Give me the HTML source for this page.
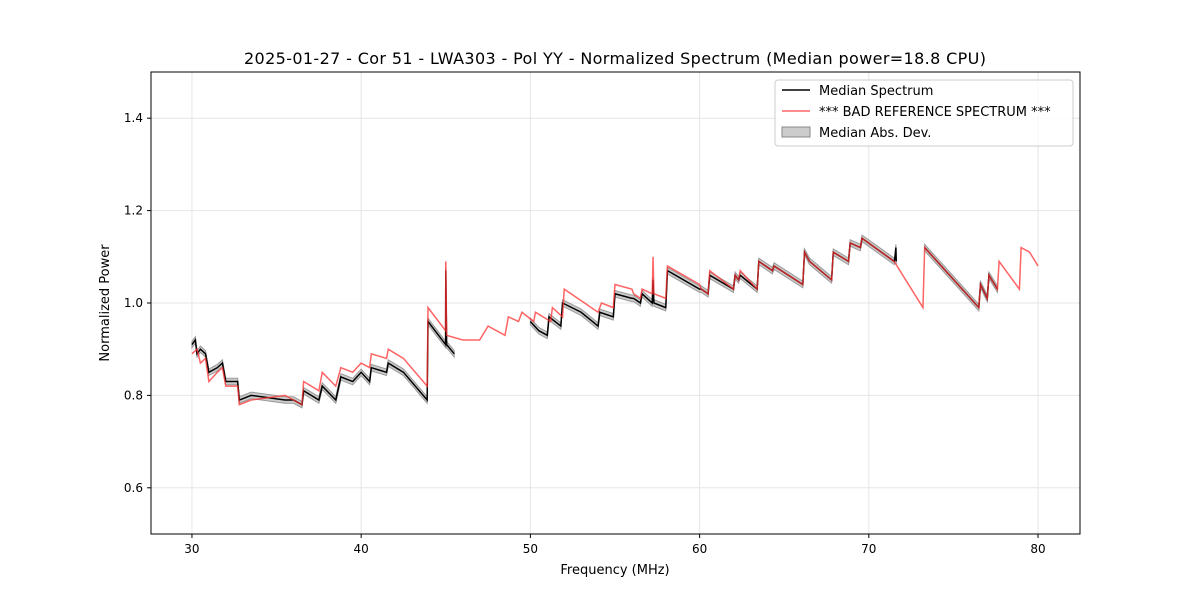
<!DOCTYPE html>
<html><head><meta charset="utf-8"><style>
body{margin:0;background:#fff;font-family:"Liberation Sans","DejaVu Sans",sans-serif}
svg text{font-family:"DejaVu Sans","Liberation Sans",sans-serif}
</style></head><body>
<svg id="c" width="1200" height="600" xmlns="http://www.w3.org/2000/svg">
<rect width="1200" height="600" fill="#fff"/>
<text x="615" y="64" text-anchor="middle" font-size="16" textLength="742">2025-01-27 - Cor 51 - LWA303 - Pol YY - Normalized Spectrum (Median power=18.8 CPU)</text>
<g id="grid"></g><g id="band"></g><g id="lines"></g><g id="axes"></g>
<text x="615" y="574" text-anchor="middle" font-size="13">Frequency (MHz)</text>
<text transform="translate(109,303) rotate(-90)" text-anchor="middle" font-size="13">Normalized Power</text>
<g>
<rect x="775" y="80" width="298" height="66" fill="#fff" fill-opacity="0.8" stroke="#ccc" rx="3"/>
<line x1="782" y1="90" x2="810" y2="90" stroke="#000" stroke-width="1.5"/>
<text x="819" y="95" font-size="13">Median Spectrum</text>
<line x1="782" y1="111" x2="810" y2="111" stroke="#ff4040" stroke-opacity="0.8" stroke-width="1.5"/>
<text x="819" y="116" font-size="13">*** BAD REFERENCE SPECTRUM ***</text>
<rect x="782" y="127" width="28" height="10" fill="#aaa" fill-opacity="0.6" stroke="#888"/>
<text x="819" y="137" font-size="13">Median Abs. Dev.</text>
</g>
</svg>
<script>
const xTicks=[30,40,50,60,70,80];
const yTicks=[0.6,0.8,1.0,1.2,1.4];
const refFreq=[30.0,30.3,30.5,30.8,31.0,31.5,31.8,32.0,32.7,32.8,33.5,35.5,36.0,36.5,36.6,37.5,37.7,38.5,38.8,39.5,40.0,40.5,40.6,41.5,41.6,42.5,43.9,43.95,44.99,45.0,45.05,46.0,47.0,47.5,48.5,48.7,49.3,49.5,50.2,50.3,51.2,51.3,51.9,52.0,54.0,54.2,54.9,55.0,56.0,56.1,56.5,56.6,57.2,57.25,57.3,58.0,58.1,60.0,60.1,60.5,60.6,62.0,62.1,62.3,62.4,63.4,63.5,64.3,64.4,66.1,66.2,66.5,67.8,67.9,68.8,68.9,69.5,69.6,71.5,73.2,73.3,76.5,76.6,77.0,77.1,77.6,77.7,78.9,79.0,79.5,80.0];
const refVal=[0.89,0.90,0.87,0.88,0.83,0.85,0.86,0.82,0.82,0.78,0.79,0.80,0.79,0.78,0.83,0.81,0.85,0.82,0.86,0.85,0.87,0.86,0.89,0.88,0.90,0.88,0.82,0.99,0.94,1.09,0.93,0.92,0.92,0.95,0.93,0.97,0.96,0.98,0.96,0.98,0.96,0.99,0.97,1.03,0.98,1.00,0.99,1.04,1.03,1.02,1.01,1.03,1.02,1.10,1.02,1.01,1.08,1.04,1.03,1.02,1.07,1.03,1.06,1.05,1.07,1.03,1.09,1.07,1.08,1.04,1.11,1.09,1.05,1.11,1.09,1.13,1.12,1.14,1.09,0.99,1.12,0.99,1.04,1.01,1.06,1.03,1.09,1.03,1.12,1.11,1.08];
const medFreq=[30.0,30.2,30.3,30.5,30.8,31.0,31.5,31.8,32.0,32.7,32.8,33.5,35.5,36.0,36.5,36.6,37.5,37.7,38.5,38.8,39.5,40.0,40.5,40.6,41.5,41.6,42.5,43.9,43.95,44.99,45.0,45.05,45.5,null,50.0,50.5,51.0,51.1,51.8,51.9,53.0,54.0,54.1,54.9,55.0,56.0,56.1,56.5,56.6,57.2,57.25,57.3,58.0,58.1,60.0,60.1,60.5,60.6,62.0,62.1,62.3,62.4,63.4,63.5,64.3,64.4,66.1,66.2,66.5,67.8,67.9,68.8,68.9,69.5,69.6,71.5,71.55,71.6,71.62,null,73.3,76.5,76.6,77.0,77.1,77.6];
const medVal=[0.91,0.92,0.89,0.90,0.89,0.85,0.86,0.87,0.83,0.83,0.79,0.80,0.79,0.79,0.78,0.81,0.79,0.82,0.79,0.84,0.83,0.85,0.83,0.86,0.85,0.87,0.85,0.79,0.96,0.91,1.07,0.91,0.89,null,0.96,0.94,0.93,0.97,0.95,1.00,0.98,0.95,0.98,0.97,1.02,1.01,1.01,1.00,1.02,1.00,1.05,1.00,0.99,1.07,1.03,1.03,1.02,1.06,1.03,1.06,1.05,1.06,1.03,1.09,1.07,1.08,1.04,1.11,1.09,1.05,1.11,1.09,1.13,1.12,1.14,1.09,1.10,1.12,1.09,null,1.12,0.99,1.04,1.01,1.06,1.03];
const madWidth=0.007;
const X0=151,X1=1080,Y0=72,Y1=534,xmin=27.58,xmax=82.48,ymin=0.5,ymax=1.5;
const sx=f=>X0+(f-xmin)/(xmax-xmin)*(X1-X0);
const sy=v=>Y1-(v-ymin)/(ymax-ymin)*(Y1-Y0);
const NS='http://www.w3.org/2000/svg';
function mk(p,t,a){const e=document.createElementNS(NS,t);for(const k in a)e.setAttribute(k,a[k]);p.appendChild(e);return e;}
const grid=document.getElementById('grid'),axes=document.getElementById('axes');
xTicks.forEach(t=>{const x=sx(t);
const g=mk(grid,'line',{x1:x,x2:x,y1:Y0,y2:Y1,stroke:'#e6e6e6'});


mk(axes,'line',{x1:x,x2:x,y1:Y1,y2:Y1+4,stroke:'#000'});
const tx=mk(axes,'text',{x:x,y:Y1+19,'text-anchor':'middle','font-size':12});tx.textContent=t;

});
yTicks.forEach(t=>{const y=sy(t);
const g=mk(grid,'line',{x1:X0,x2:X1,y1:y,y2:y,stroke:'#e6e6e6'});


mk(axes,'line',{x1:X0-4,x2:X0,y1:y,y2:y,stroke:'#000'});
const tx=mk(axes,'text',{x:X0-8,y:y+4,'text-anchor':'end','font-size':12});tx.textContent=t.toFixed(1);

});
const fr=mk(axes,'rect',{x:X0,y:Y0,width:X1-X0,height:Y1-Y0,fill:'none',stroke:'#000'});


function segs(fs,vs){const out=[];let cur=[];fs.forEach((f,i)=>{if(f===null){if(cur.length)out.push(cur);cur=[];}else cur.push([f,vs[i]]);});if(cur.length)out.push(cur);return out;}
const band=document.getElementById('band'),lines=document.getElementById('lines');
segs(medFreq,medVal).forEach(s=>{
const top=s.map(p=>sx(p[0])+','+sy(p[1]+madWidth)),bot=s.slice().reverse().map(p=>sx(p[0])+','+sy(p[1]-madWidth));
const b=mk(band,'polygon',{points:top.concat(bot).join(' '),fill:'#aaa','fill-opacity':0.6,stroke:'#999','stroke-width':1});


const l=mk(lines,'polyline',{points:s.map(p=>sx(p[0])+','+sy(p[1])).join(' '),fill:'none',stroke:'#000','stroke-width':1.5});

});
const r=mk(lines,'polyline',{points:refFreq.map((f,i)=>sx(f)+','+sy(refVal[i])).join(' '),fill:'none',stroke:'#ff3030','stroke-opacity':0.75,'stroke-width':1.5});


</script>
</body></html>
